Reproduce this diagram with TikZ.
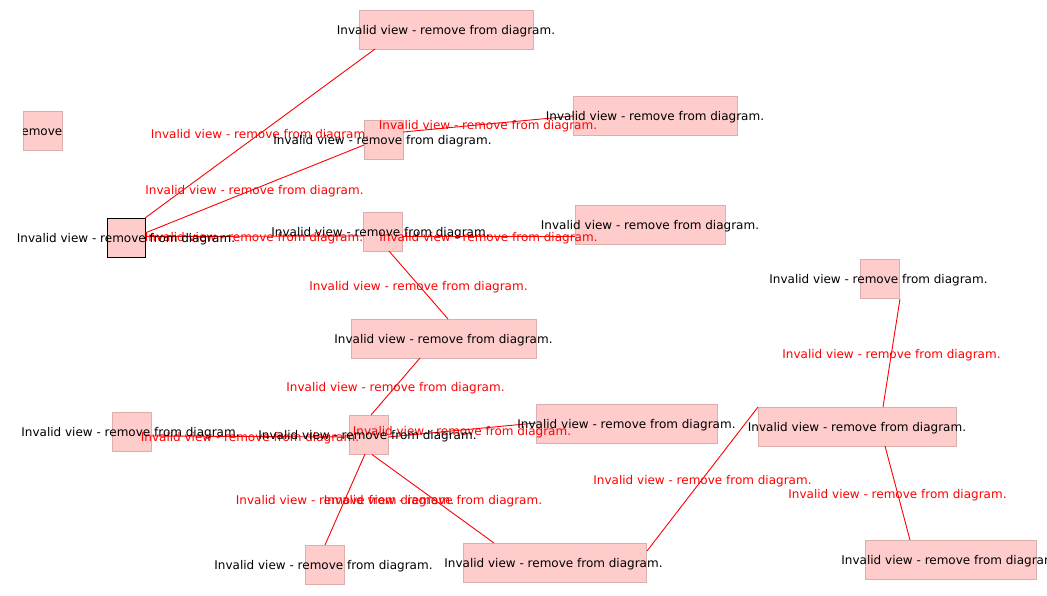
\documentclass[tikz,border=0pt]{standalone}
\usepackage{fontspec}
\setmainfont{DejaVu Sans}
\usepackage{tikz}
\usetikzlibrary{
    calc,
    positioning
}
\definecolor{boxfill}{HTML}{FFCCCC}
\definecolor{boxline}{HTML}{DCAFAF}
\newcommand\invalidmsg{Invalid view - remove from diagram.}

\begin{document}
\begin{tikzpicture}[x=1pt, y=-1pt,
    viewbox/.style={draw=boxline, fill=boxfill, line width=0.8pt, minimum height=39pt, inner sep=0pt, outer sep=0pt},
    viewtext/.style={font=\fontsize{12}{14}\selectfont, text=black, inner sep=0pt, yshift=-2pt},
    linktext/.style={font=\fontsize{12}{14}\selectfont, text=red, inner sep=0pt, yshift=-2pt},
    link/.style={draw=red, line width=0.9pt}]
                        \useasboundingbox (0,0) rectangle (1047,595);
                        % boxes
                        \node[viewbox, minimum width=174pt] (n1) at (446,29.5) {};
                        \node[viewbox, minimum width=39pt] (n2) at (42.5,130.5) {};
                        \node[viewbox, minimum width=39pt] (n3) at (383.5,139.5) {};
                        \node[viewbox, minimum width=164pt] (n4) at (655,115.5) {};
                        \node[viewbox, minimum width=38pt, draw=black] (n5) at (126,237.5) {};
                        \node[viewbox, minimum width=39pt] (n6) at (382.5,231.5) {};
                        \node[viewbox, minimum width=150pt] (n7) at (650,224.5) {};
                        \node[viewbox, minimum width=185pt] (n8) at (443.5,338.5) {};
                        \node[viewbox, minimum width=39pt] (n9) at (879.5,278.5) {};
                        \node[viewbox, minimum width=198pt] (n10) at (857,426.5) {};
                        \node[viewbox, minimum width=39pt] (n11) at (131.5,431.5) {};
                        \node[viewbox, minimum width=39pt] (n12) at (368.5,434.5) {};
                        \node[viewbox, minimum width=181pt] (n13) at (626.5,423.5) {};
                        \node[viewbox, minimum width=39pt] (n14) at (324.5,564.5) {};
                        \node[viewbox, minimum width=183pt] (n15) at (554.5,562.5) {};
                        \node[viewbox, minimum width=171pt] (n16) at (950.5,559.5) {};
                        % links
                        \draw[link] (n5.north east) -- ($(n1.south west)+(16,0)$)
                            node[midway, linktext] (e1) {\invalidmsg};
                        \draw[link] ($(n5.east)+(0,-4.5)$) -- ($(n3.west)+(0,5.5)$)
                            node[midway, linktext] (e2) {\invalidmsg};
                        \draw[link] ($(n5.east)+(0,-1)$) -- ($(n6.west)+(0,4.5)$)
                            node[midway, linktext] (e3) {\invalidmsg};
                        \draw[link] ($(n6.east)+(0,4.5)$) -- ($(n7.west)+(0,11.5)$)
                            node[midway, linktext] (e4) {\invalidmsg};
                        \draw[link] ($(n3.east)+(0,-7.5)$) -- ($(n4.west)+(0,0.5)$)
                            node[midway, linktext] (e5) {\invalidmsg};
                        \draw[link] ($(n6.south)+(6.5,0)$) -- ($(n8.north)+(4.5,0)$)
                            node[midway, linktext] (e6) {\invalidmsg};
                        \draw[link] ($(n8.south)+(-23.5,0)$) -- ($(n12.north)+(2.5,0)$)
                            node[midway, linktext] (e7) {\invalidmsg};
                        \draw[link] ($(n11.east)+(0,4.5)$) -- ($(n12.west)+(0,2.5)$)
                            node[midway, linktext] (e8) {\invalidmsg};
                        \draw[link] ($(n12.east)+(0,2.5)$) -- ($(n13.west)+(0,-0.5)$)
                            node[midway, linktext] (e9) {\invalidmsg};
                        \draw[link] ($(n12.south)+(-3.5,0)$) -- ($(n14.north)+(0.5,0)$)
                            node[midway, linktext] (e10) {\invalidmsg};
                        \draw[link] ($(n12.south)+(3.5,0.5)$) -- ($(n15.north)+(-60.5,0)$)
                            node[midway, linktext] (e11) {\invalidmsg};
                        \draw[link] ($(n15.east)+(1,-11.5)$) -- (n10.north west)
                            node[midway, linktext] (e12) {\invalidmsg};
                        \draw[link] ($(n9.south east)+(1,1)$) -- ($(n10.north)+(26,0)$)
                            node[midway, linktext] (e13) {\invalidmsg};
                        \draw[link] ($(n10.south)+(28,0)$) -- ($(n16.north)+(-40.5,0)$)
                            node[midway, linktext] (e14) {\invalidmsg};
                        % box texts
                        \begin{scope}
                            \clip (n2.south west) rectangle (n2.north east);
                            \node[viewtext] (t2) at (n2) {\invalidmsg};
                        \end{scope}
                        \node[viewtext] (t1) at (n1) {\invalidmsg};
                        \node[viewtext] (t3) at ($(n3)+(-1,0)$) {\invalidmsg};
                        \node[viewtext] (t4) at (n4) {\invalidmsg};
                        \node[viewtext] (t5) at (n5) {\invalidmsg};
                        \node[viewtext] (t6) at ($(n6)+(-2,0)$) {\invalidmsg};
                        \node[viewtext] (t7) at (n7) {\invalidmsg};
                        \node[viewtext] (t8) at (n8) {\invalidmsg};
                        \node[viewtext] (t9) at ($(n9)+(-1,0)$) {\invalidmsg};
                        \node[viewtext] (t10) at (n10) {\invalidmsg};
                        \node[viewtext] (t11) at ($(n11)+(-1,0)$) {\invalidmsg};
                        \node[viewtext] (t12) at ($(n12)+(-1,0)$) {\invalidmsg};
                        \node[viewtext] (t13) at (n13) {\invalidmsg};
                        \node[viewtext] (t14) at ($(n14)+(-1,0)$) {\invalidmsg};
                        \node[viewtext] (t15) at ($(n15)+(-1,0)$) {\invalidmsg};
                        \node[viewtext] (t16) at (n16) {\invalidmsg};
\end{tikzpicture}
\end{document}
